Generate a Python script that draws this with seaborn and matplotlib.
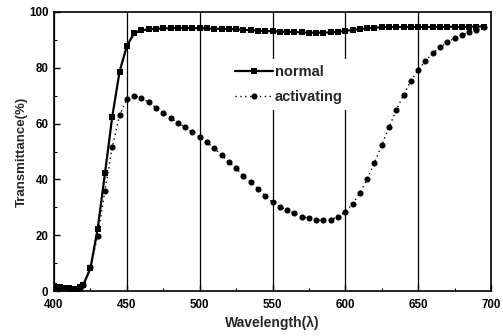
import matplotlib
matplotlib.use("Agg")
import matplotlib.pyplot as plt
import seaborn as sns
import pandas as pd
from matplotlib.ticker import MultipleLocator

wavelength = [400, 402, 404, 406, 408, 410, 412, 414, 416, 418,
              420, 425, 430, 435, 440, 445, 450, 455, 460, 465,
              470, 475, 480, 485, 490, 495, 500, 505, 510, 515,
              520, 525, 530, 535, 540, 545, 550, 555, 560, 565,
              570, 575, 580, 585, 590, 595, 600, 605, 610, 615,
              620, 625, 630, 635, 640, 645, 650, 655, 660, 665,
              670, 675, 680, 685, 690, 695]

normal = [1.8, 1.5, 1.3, 1.2, 1.0, 0.9, 0.7, 0.6, 0.8, 1.6,
          2.1, 8.1, 22.4, 42.2, 62.5, 78.6, 87.8, 92.4, 93.4, 93.8,
          94.0, 94.1, 94.2, 94.2, 94.2, 94.2, 94.2, 94.1, 94.0, 94.0,
          93.9, 93.8, 93.6, 93.5, 93.3, 93.2, 93.1, 93.0, 92.9, 92.8,
          92.7, 92.6, 92.6, 92.6, 92.7, 92.9, 93.2, 93.6, 93.9, 94.2,
          94.4, 94.5, 94.6, 94.6, 94.6, 94.6, 94.6, 94.6, 94.6, 94.6,
          94.7, 94.7, 94.7, 94.7, 94.8, 94.8]

activating = [1.6, 1.4, 1.2, 1.0, 0.9, 0.8, 0.6, 0.5, 0.6, 1.2,
              2.0, 8.5, 19.7, 36.0, 51.5, 63.0, 68.8, 69.9, 69.3, 67.6,
              65.7, 63.9, 62.1, 60.3, 58.7, 56.9, 55.1, 53.3, 51.1, 48.7,
              46.3, 44.0, 41.3, 39.0, 36.6, 34.2, 31.8, 30.2, 29.0, 27.8,
              26.6, 26.1, 25.4, 25.4, 25.6, 26.6, 28.4, 31.2, 35.1, 40.1,
              46.0, 52.3, 58.7, 64.9, 70.3, 75.3, 79.2, 82.5, 85.2, 87.3,
              89.2, 90.6, 91.8, 92.7, 93.5, 94.5]

x_ticks = [400, 450, 500, 550, 600, 650, 700]
y_ticks = [0, 20, 40, 60, 80, 100]

df = pd.DataFrame({"wavelength": wavelength, "normal": normal, "activating": activating})

sns.set_style("ticks")
plt.rcParams["font.family"] = ["Liberation Sans", "DejaVu Sans"]

fig = plt.figure(figsize=(5.03, 3.36), dpi=100)
ax = fig.add_axes([54 / 503, 1 - 291 / 336, 437 / 503, 279 / 336])

sns.lineplot(data=df, x="wavelength", y="normal", ax=ax, color="black",
             marker="s", markersize=4.6, markeredgewidth=0, linewidth=1.6,
             label="normal", zorder=3)
sns.lineplot(data=df, x="wavelength", y="activating", ax=ax, color="black",
             marker="o", markersize=4.4, markeredgewidth=0, linewidth=1.0,
             linestyle=(0, (1, 2.5)), label="activating", zorder=3)

ax.set_xlim(400, 700)
ax.set_ylim(0, 100)
ax.set_xticks(x_ticks)
ax.set_yticks(y_ticks)
ax.xaxis.set_minor_locator(MultipleLocator(25))
ax.yaxis.set_minor_locator(MultipleLocator(10))
ax.tick_params(which="both", direction="in", colors="black")
ax.tick_params(which="major", length=4, width=1, labelsize=8.3)
ax.tick_params(axis="x", which="major", pad=6)
ax.tick_params(axis="y", which="major", pad=4)
ax.tick_params(which="minor", length=2, width=0.8)
for lab in ax.get_xticklabels() + ax.get_yticklabels():
    lab.set_fontweight("bold")

ax.grid(True, axis="x", which="major", color="black", linewidth=0.9, zorder=1)
ax.set_axisbelow(True)

for s in ax.spines.values():
    s.set_visible(True)
    s.set_color("black")
    s.set_linewidth(1.2)

ax.set_xlabel("Wavelength(λ)", fontsize=10, fontweight="bold", labelpad=3)
ax.set_ylabel("Transmittance(%)", fontsize=9.5, fontweight="bold", labelpad=1)

leg = ax.legend(loc="upper left", bbox_to_anchor=(0.385, 0.858), frameon=True,
                fancybox=False, edgecolor="none", facecolor="white", framealpha=1,
                fontsize=10.5, handlelength=2.6, handletextpad=0.1,
                labelspacing=0.75, borderpad=0.4)
for t in leg.get_texts():
    t.set_fontweight("bold")
leg.set_zorder(2)

fig.savefig("out.png", dpi=100)
